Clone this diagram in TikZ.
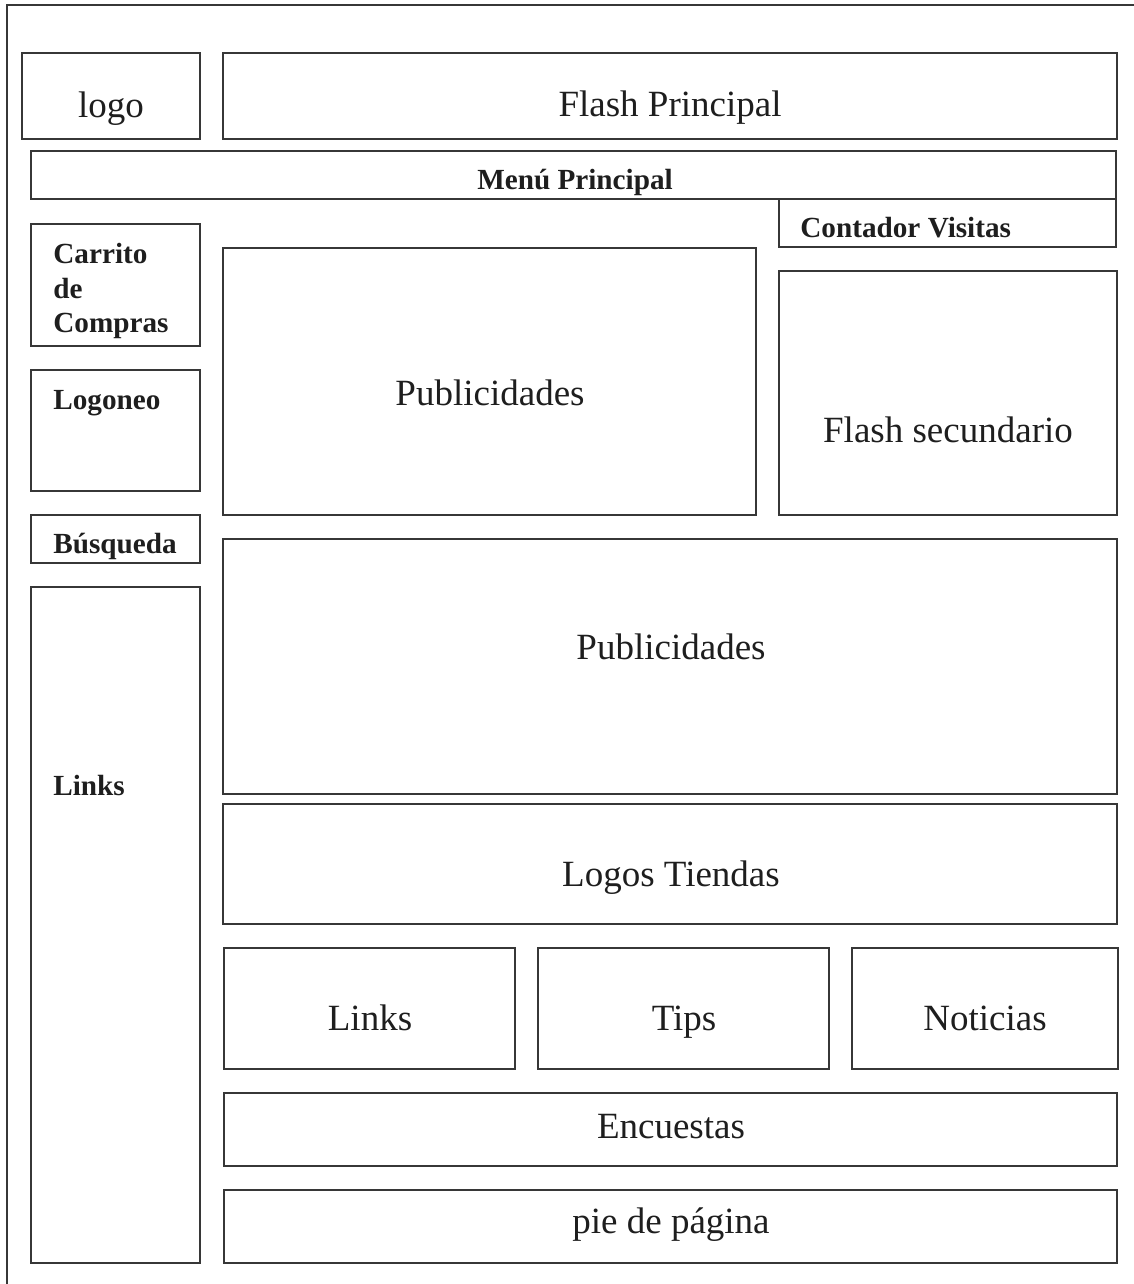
\documentclass[tikz,border=0pt]{standalone}
\usepackage{fontspec}
\setmainfont{Liberation Serif}
\usepackage{tikz}
\usetikzlibrary{fit}
\definecolor{framegray}{RGB}{55, 55, 55}
\definecolor{textgray}{RGB}{30, 30, 30}

\begin{document}
\begin{tikzpicture}[x=0.5pt, y=-0.5pt,
    box/.style={draw=framegray, line width=0.8pt, inner sep=0pt},
    big/.style={textgray, font=\fontsize{18.5}{22}\selectfont, anchor=base},
    small/.style={textgray, font=\fontsize{14.6}{17.25}\selectfont\bfseries, anchor=base west, align=left, inner sep=0pt}]
            \useasboundingbox (0,0) rectangle (1134,1284);

            % Page frame (cut off right and bottom)
            \draw[framegray, line width=0.8pt] (7,1284) -- (7,5) -- (1134,5);

            % Header
            \node[box, fit={(22,53) (200,139)}] (logo) {};
            \node[big] (logoText) at (111,118) {logo};
            \node[box, fit={(223,53) (1117,139)}] (flash) {};
            \node[big] (flashText) at (670,117) {Flash Principal};
            \node[box, fit={(31,151) (1116,199)}] (menu) {};
            \node[small, anchor=base] (menuText) at (575,189) {Menú Principal};
            \node[box, fit={(779,199) (1116,247)}] (contador) {};
            \node[small] (contadorText) at (800,237) {Contador Visitas};

            % Left column
            \node[box, fit={(31,224) (200,346)}] (carrito) {};
            \node[small, anchor=north west] (carritoText) at (53,243) {Carrito\\de\\Compras};
            \node[box, fit={(31,370) (200,491)}] (logoneo) {};
            \node[small] (logoneoText) at (53,409) {Logoneo};
            \node[box, fit={(31,515) (200,563)}] (busqueda) {};
            \node[small, anchor=base] (busquedaText) at (115,553) {Búsqueda};
            \node[box, fit={(31,587) (200,1263)}] (linksLeft) {};
            \node[small] (linksLeftText) at (53,795) {Links};

            % Main area
            \node[box, fit={(223,248) (756,515)}] (publi) {};
            \node[big] (publiText) at (490,405) {Publicidades};
            \node[box, fit={(779,271) (1117,515)}] (flashSec) {};
            \node[big] (flashSecText) at (948,442) {Flash secundario};
            \node[box, fit={(223,539) (1117,794)}] (publiB) {};
            \node[big] (publiBText) at (671,659) {Publicidades};
            \node[box, fit={(223,804) (1117,924)}] (tiendas) {};
            \node[big] (tiendasText) at (671,886) {Logos Tiendas};

            % Three small boxes
            \node[box, fit={(224,948) (515,1069)}] (links) {};
            \node[big] (linksText) at (370,1030) {Links};
            \node[box, fit={(538,948) (829,1069)}] (tips) {};
            \node[big] (tipsText) at (684,1030) {Tips};
            \node[box, fit={(852,948) (1118,1069)}] (noticias) {};
            \node[big] (noticiasText) at (985,1030) {Noticias};

            % Footer
            \node[box, fit={(224,1093) (1117,1166)}] (encuestas) {};
            \node[big] (encuestasText) at (671,1138) {Encuestas};
            \node[box, fit={(224,1190) (1117,1263)}] (pie) {};
            \node[big] (pieText) at (671,1233) {pie de página};
        \end{tikzpicture}
\end{document}
